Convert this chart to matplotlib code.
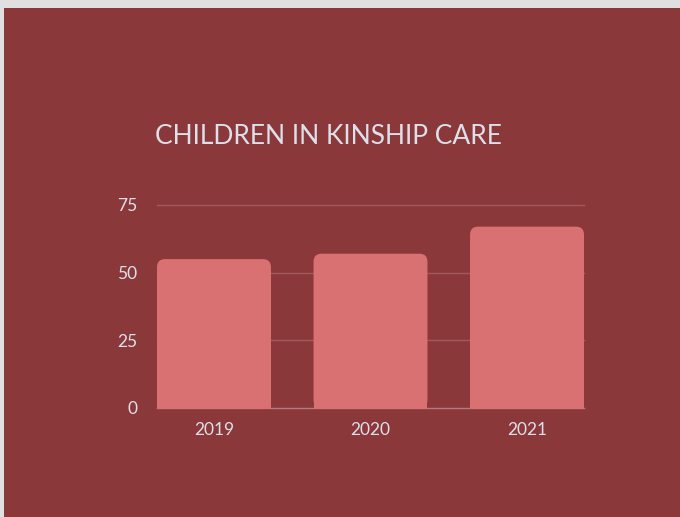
import matplotlib
matplotlib.use("Agg")
import matplotlib.pyplot as plt
from matplotlib.patches import FancyBboxPatch, Rectangle

years = ["2019", "2020", "2021"]
children = [55, 57, 67]
yticks = [0, 25, 50, 75]

bg = "#8b383b"
bar_color = "#d97072"
text_color = "#dde0ea"
grid_color = "#a35a5d"

fig = plt.figure(figsize=(6.8, 5.17), dpi=100)
fig.patch.set_facecolor("#e0e0e0")
# red panel, leaving the thin grey border top and left
fig.patches.append(Rectangle((4 / 680, 0), 1, 1 - 8 / 517, transform=fig.transFigure,
                             facecolor=bg, edgecolor="none", zorder=-5))

ax = fig.add_axes([157 / 680, 109 / 517, 427 / 680, 80 * 2.707 / 517])
ax.set_facecolor("none")
ax.set_xlim(-0.364, 2.364)
ax.set_ylim(0, 80)

bars = ax.bar(range(len(years)), children, width=0.728, color=bar_color, zorder=2)

# swap the square bars for ones with rounded top corners
px_x = 427 / 2.728
px_y = 2.707
r = 8 / px_x
for b in bars:
    x, w, h = b.get_x(), b.get_width(), b.get_height()
    b.set_visible(False)
    ax.add_patch(FancyBboxPatch((x, 0), w, h, boxstyle=f"round,pad=0,rounding_size={r}",
                                mutation_aspect=px_x / px_y, facecolor=bar_color,
                                edgecolor="none", zorder=2))
    ax.add_patch(Rectangle((x, -0.3), w, h - 5, facecolor=bar_color, edgecolor="none",
                           zorder=2, clip_on=False))

for v in yticks:
    ax.axhline(v, color=grid_color if v else "#b27c7e", lw=1, zorder=1, clip_on=False)

ax.set_yticks(yticks)
ax.set_xticks(range(len(years)))
ax.set_xticklabels(years)
ax.tick_params(axis="y", length=0, pad=14, labelsize=12.5, labelcolor=text_color)
ax.tick_params(axis="x", length=0, pad=10, labelsize=12.5, labelcolor=text_color)
for lab in ax.get_xticklabels() + ax.get_yticklabels():
    lab.set_fontfamily("Lato")
for s in ax.spines.values():
    s.set_visible(False)

fig.text(155 / 680, 1 - 136 / 517, "CHILDREN IN KINSHIP CARE", color=text_color,
         fontsize=19, family="Lato", ha="left", va="center")

fig.savefig("out.png", dpi=100, facecolor=fig.get_facecolor())
